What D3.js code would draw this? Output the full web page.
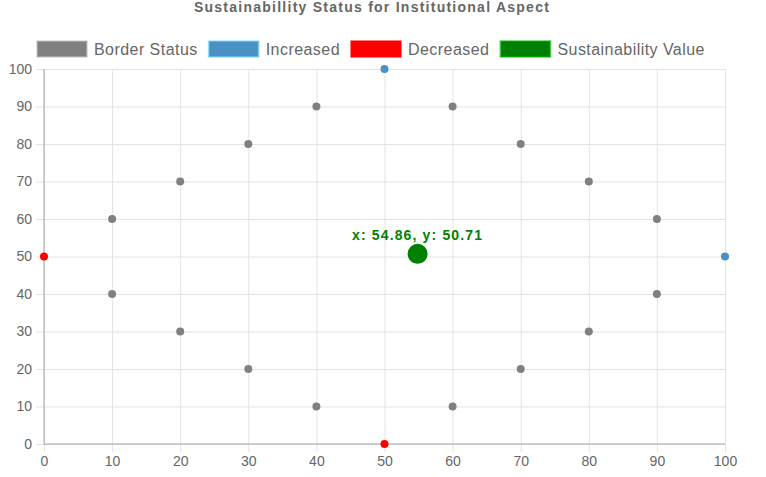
<!DOCTYPE html>
<html>
<head>
<meta charset="utf-8">
<script src="https://cdn.jsdelivr.net/npm/d3@7"></script>
<style>
  html, body { margin: 0; padding: 0; background: #fff; }
  svg { display: block; font-family: "Liberation Sans", Arial, Helvetica, sans-serif; }
</style>
</head>
<body>
<div id="chart"></div>
<script>
const TITLE = 'Sustainabillity Status for Institutional Aspect'

const borderX = [10, 20, 30, 40, 60, 70, 80, 90, 90, 80, 70, 60, 40, 30, 20, 10]
const borderY = [60, 70, 80, 90, 90, 80, 70, 60, 40, 30, 20, 10, 10, 20, 30, 40]
const increasedX = [50, 100]
const increasedY = [100, 50]
const decreasedX = [0, 50]
const decreasedY = [50, 0]
const sustainX = [54.86]
const sustainY = [50.71]
const xTicks = [0, 10, 20, 30, 40, 50, 60, 70, 80, 90, 100]
const yTicks = [0, 10, 20, 30, 40, 50, 60, 70, 80, 90, 100]

const series = [
  { name: 'Border Status', xs: borderX, ys: borderY, color: '#808080', r: 4 },
  { name: 'Increased', xs: increasedX, ys: increasedY, color: '#4a90c2', r: 4 },
  { name: 'Decreased', xs: decreasedX, ys: decreasedY, color: '#ff0000', r: 4 },
  { name: 'Sustainability Value', xs: sustainX, ys: sustainY, color: '#008000', r: 10 },
]

const width = 766
const height = 477
const margin = { top: 69, right: 41, bottom: 33, left: 44 }
const innerW = width - margin.left - margin.right
const innerH = height - margin.top - margin.bottom

const svg = d3.select('#chart').append('svg')
  .attr('xmlns', 'http://www.w3.org/2000/svg')
  .attr('width', width)
  .attr('height', height)
  .attr('viewBox', `0 0 ${width} ${height}`)

svg.append('text')
  .attr('x', width / 2 - 11)
  .attr('y', 12)
  .attr('text-anchor', 'middle')
  .attr('fill', '#666')
  .attr('font-size', 14)
  .attr('font-weight', 'bold')
  .attr('letter-spacing', 1.25)
  .text(TITLE)

// legend
const legend = svg.append('g').attr('transform', 'translate(36,40)')
let lx = 0
series.forEach((s) => {
  const item = legend.append('g').attr('transform', `translate(${lx},0)`)
  item.append('rect')
    .attr('x', 1).attr('y', 1).attr('width', 50).attr('height', 16)
    .attr('fill', s.color)
    .attr('stroke', d3.color(s.color).brighter(1.2))
    .attr('stroke-opacity', 0.5)
    .attr('stroke-width', 2)
  const t = item.append('text')
    .attr('x', 58).attr('y', 9)
    .attr('dy', '0.35em')
    .attr('fill', '#666')
    .attr('font-size', 16)
    .attr('letter-spacing', 0.45)
    .text(s.name)
  lx += 58 + t.node().getComputedTextLength() + 10
})

const g = svg.append('g').attr('transform', `translate(${margin.left},${margin.top})`)

const x = d3.scaleLinear().domain([0, 100]).range([0, innerW])
const y = d3.scaleLinear().domain([0, 100]).range([innerH, 0])

// grid with outer tick marks
g.append('g')
  .attr('transform', `translate(0,${innerH})`)
  .call(d3.axisBottom(x).tickValues(xTicks).tickSizeInner(-innerH).tickSizeOuter(0).tickFormat(''))
  .call((a) => a.select('.domain').remove())
  .call((a) => a.selectAll('line').attr('stroke', '#e3e3e3').attr('y1', 8))

g.append('g')
  .call(d3.axisLeft(y).tickValues(yTicks).tickSizeInner(-innerW).tickSizeOuter(0).tickFormat(''))
  .call((a) => a.select('.domain').remove())
  .call((a) => a.selectAll('line').attr('stroke', '#e3e3e3').attr('x1', -8))

// tick labels
g.append('g')
  .attr('transform', `translate(0,${innerH})`)
  .call(d3.axisBottom(x).tickValues(xTicks).tickSize(8).tickPadding(4))
  .call((a) => a.select('.domain').remove())
  .call((a) => a.selectAll('line').remove())
  .call((a) => a.selectAll('text').attr('fill', '#666').attr('font-size', 14).attr('font-family', null))

g.append('g')
  .call(d3.axisLeft(y).tickValues(yTicks).tickSize(8).tickPadding(4))
  .call((a) => a.select('.domain').remove())
  .call((a) => a.selectAll('line').remove())
  .call((a) => a.selectAll('text').attr('fill', '#666').attr('font-size', 14).attr('font-family', null))

// zero lines
g.append('line').attr('x1', 0).attr('x2', 0).attr('y1', 0).attr('y2', innerH)
  .attr('stroke', '#a6a6a6')
g.append('line').attr('x1', 0).attr('x2', innerW).attr('y1', innerH).attr('y2', innerH)
  .attr('stroke', '#a6a6a6')

series.forEach((s) => {
  const pts = s.xs.map((v, i) => [v, s.ys[i]])
  g.append('g').selectAll('circle')
    .data(pts)
    .join('circle')
    .attr('cx', (d) => x(d[0]))
    .attr('cy', (d) => y(d[1]))
    .attr('r', s.r)
    .attr('fill', s.color)
})

// label over sustainability value
g.selectAll('.val-label')
  .data(sustainX.map((v, i) => [v, sustainY[i]]))
  .join('text')
  .attr('class', 'val-label')
  .attr('x', (d) => x(d[0]))
  .attr('y', (d) => y(d[1]) - 14)
  .attr('text-anchor', 'middle')
  .attr('fill', '#008000')
  .attr('font-size', 14)
  .attr('font-weight', 'bold')
  .attr('letter-spacing', 1.15)
  .text((d) => `x: ${d[0]}, y: ${d[1]}`)
</script>
</body>
</html>
